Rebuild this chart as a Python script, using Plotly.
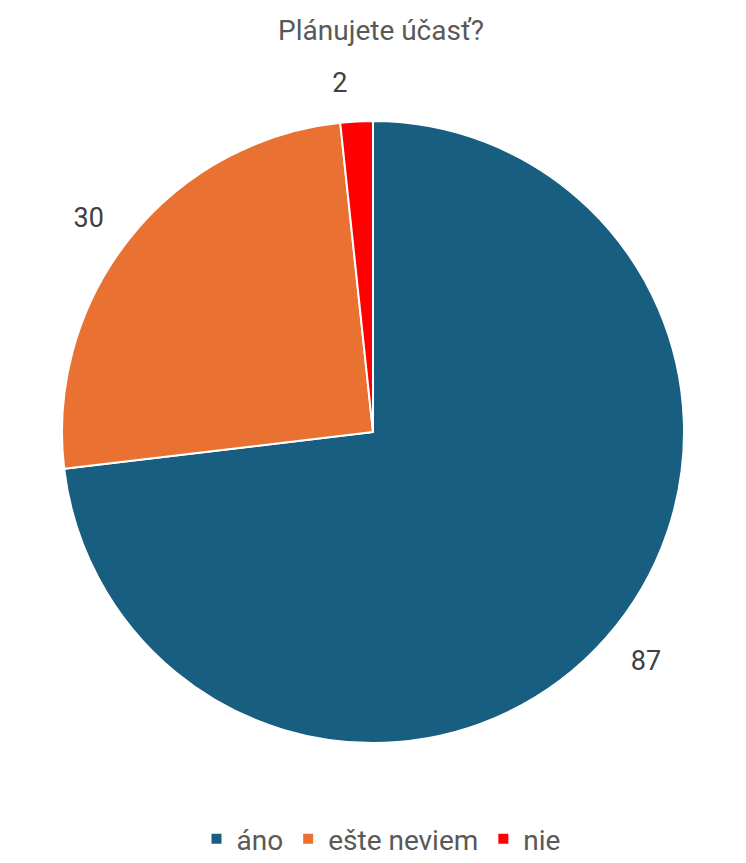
import plotly.graph_objects as go

categories = ["áno", "ešte neviem", "nie"]
values = [87, 30, 2]
colors = ["#175E80", "#E97132", "#FF0000"]
title_text = "Plánujete účasť?"

W, H = 746, 863
cx, cy, r = 365, 424, 311
r_lab = 334


def dom(rad):
    return dict(x=[(cx - rad) / W, (cx + rad) / W], y=[1 - (cy + rad) / H, 1 - (cy - rad) / H])


fig = go.Figure()
fig.add_trace(go.Pie(
    labels=categories,
    values=values,
    sort=False,
    direction="clockwise",
    rotation=0,
    marker=dict(colors=colors, line=dict(color="white", width=2)),
    textinfo="none",
    domain=dom(r),
    hoverinfo="label+value",
))
# label layer: same slices, transparent, slightly larger so outside values sit further out
fig.add_trace(go.Pie(
    labels=categories,
    values=values,
    sort=False,
    direction="clockwise",
    rotation=0,
    marker=dict(colors=["rgba(0,0,0,0)"] * len(values), line=dict(width=0)),
    textinfo="value",
    textposition="outside",
    textfont=dict(size=27, color="#404040", family="Roboto"),
    domain=dom(r_lab),
    hoverinfo="skip",
    showlegend=False,
))

fig.update_layout(
    width=W, height=H,
    margin=dict(l=0, r=0, t=0, b=0),
    paper_bgcolor="white",
    font=dict(family="Roboto", color="#595959"),
    title=dict(text=title_text, x=0.5, xanchor="center", y=1 - 22 / H, yanchor="middle",
               font=dict(size=28, color="#595959", family="Roboto")),
    legend=dict(orientation="h", x=0.5, xanchor="center", y=1 - 831 / H, yanchor="middle",
                font=dict(size=28, color="#595959", family="Roboto"),
                itemwidth=30, traceorder="normal"),
    showlegend=True,
)

fig.write_html("out.html")
